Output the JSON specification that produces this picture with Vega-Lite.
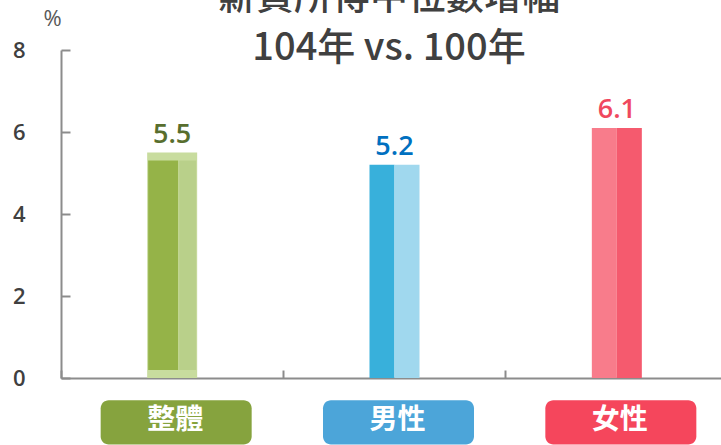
{
  "$schema": "https://vega.github.io/schema/vega-lite/v6.json",
  "autosize": {"type": "none"},
  "width": 660,
  "height": 328,
  "padding": {"left": 61, "top": 50, "right": 0, "bottom": 67},
  "background": "white",
  "title": {
    "text": ["薪資所得中位數增幅", "104年 vs. 100年"],
    "font": "Noto Sans CJK TC",
    "fontSize": 38,
    "fontWeight": 500,
    "color": "#404040",
    "lineHeight": 51,
    "anchor": "middle",
    "baseline": "alphabetic",
    "offset": 0,
    "dx": -2,
    "dy": 91
  },
  "config": {
    "view": {"stroke": null},
    "axis": {"grid": false}
  },
  "data": {
    "values": [
      {"cat": "整體", "value": 5.5},
      {"cat": "男性", "value": 5.2},
      {"cat": "女性", "value": 6.1}
    ]
  },
  "encoding": {
    "x": {
      "field": "cat",
      "type": "nominal",
      "sort": ["整體", "男性", "女性"],
      "scale": {"range": [0, 667], "paddingInner": 0, "paddingOuter": 0},
      "axis": {
        "title": null,
        "labels": false,
        "bandPosition": 0,
        "tickSize": -8,
        "tickColor": "#8c8c8c",
        "tickWidth": 2,
        "domainColor": "#8c8c8c",
        "domainWidth": 2
      }
    }
  },
  "layer": [
    {
      "transform": [{"filter": "datum.cat == '整體'"}],
      "mark": {"type": "bar", "width": 50, "color": "#C8DC9E"},
      "encoding": {
        "y": {
          "field": "value",
          "type": "quantitative",
          "scale": {"domain": [0, 8]},
          "axis": {
            "title": "%",
            "titleAngle": 0,
            "titleX": -9,
            "titleY": -32,
            "titleAlign": "center",
            "titleBaseline": "middle",
            "titleFont": "Open Sans",
            "titleFontSize": 22,
            "titleFontWeight": "normal",
            "titleColor": "#595959",
            "values": [0, 2, 4, 6, 8],
            "tickSize": -9,
            "tickColor": "#8c8c8c",
            "tickWidth": 2,
            "domainColor": "#8c8c8c",
            "domainWidth": 2,
            "labelPadding": 45,
            "labelFont": "Open Sans",
            "labelFontSize": 22,
            "labelFontWeight": 600,
            "labelColor": "#404040"
          }
        }
      }
    },
    {
      "transform": [{"filter": "datum.cat == '整體'"}],
      "mark": {"type": "bar", "width": 30, "xOffset": -9, "yOffset": 8, "y2Offset": -8, "color": "#95B348"},
      "encoding": {"y": {"field": "value", "type": "quantitative"}, "y2": {"datum": 0}}
    },
    {
      "transform": [{"filter": "datum.cat == '整體'"}],
      "mark": {"type": "bar", "width": 17, "xOffset": 15.5, "yOffset": 8, "y2Offset": -8, "color": "#B9D08A"},
      "encoding": {"y": {"field": "value", "type": "quantitative"}, "y2": {"datum": 0}}
    },
    {
      "transform": [{"filter": "datum.cat != '整體'"}],
      "mark": {"type": "bar", "width": 25, "xOffset": -12.5},
      "encoding": {
        "y": {"field": "value", "type": "quantitative"},
        "color": {"condition": {"test": "datum.cat == '男性'", "value": "#38B0DB"}, "value": "#F87C8B"}
      }
    },
    {
      "transform": [{"filter": "datum.cat != '整體'"}],
      "mark": {"type": "bar", "width": 25, "xOffset": 12.5},
      "encoding": {
        "y": {"field": "value", "type": "quantitative"},
        "color": {"condition": {"test": "datum.cat == '男性'", "value": "#A0D8EE"}, "value": "#F55A6E"}
      }
    },
    {
      "mark": {"type": "text", "dy": -10, "baseline": "alphabetic", "font": "Open Sans", "fontSize": 27, "fontWeight": 600},
      "encoding": {
        "y": {"field": "value", "type": "quantitative"},
        "text": {"field": "value", "type": "quantitative", "format": ".1f"},
        "color": {
          "condition": [
            {"test": "datum.cat == '整體'", "value": "#586E2E"},
            {"test": "datum.cat == '男性'", "value": "#0070C0"}
          ],
          "value": "#F0485E"
        }
      }
    },
    {
      "mark": {"type": "bar", "width": 151, "xOffset": 4, "cornerRadius": 8},
      "encoding": {
        "y": {"datum": -0.54},
        "y2": {"datum": -1.62},
        "color": {
          "condition": [
            {"test": "datum.cat == '整體'", "value": "#86A33E"},
            {"test": "datum.cat == '男性'", "value": "#4CA5D9"}
          ],
          "value": "#F5465C"
        }
      }
    },
    {
      "mark": {"type": "text", "xOffset": 3, "baseline": "middle", "font": "Noto Sans CJK TC", "fontSize": 28, "fontWeight": "bold", "color": "white"},
      "encoding": {
        "y": {"datum": -1.06},
        "text": {"field": "cat", "type": "nominal"}
      }
    }
  ]
}
